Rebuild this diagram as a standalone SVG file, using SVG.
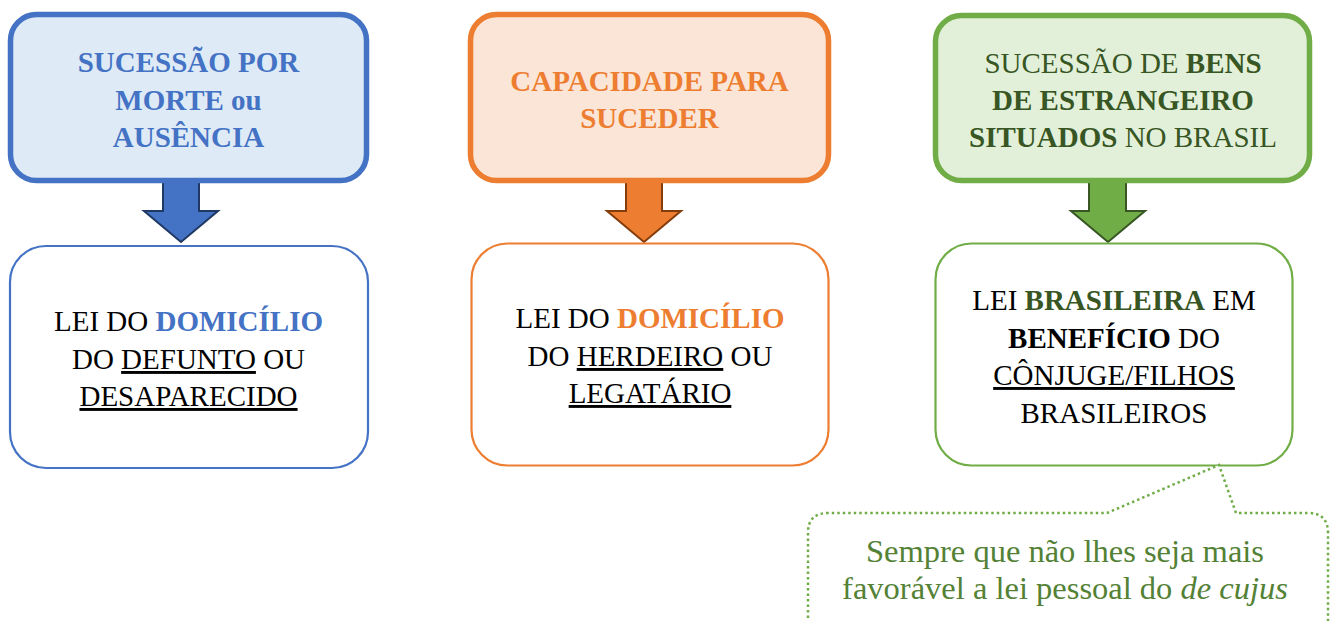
<svg xmlns="http://www.w3.org/2000/svg" width="1334" height="621" viewBox="0 0 1334 621">
<style>
text{font-family:"Liberation Serif","DejaVu Serif",serif;text-anchor:middle}
.h{font-size:29px}
.t{font-size:29px;fill:#000}
.c{font-size:32.5px;fill:#538135}
.b{font-weight:bold}
.u{text-decoration:underline}
.top{stroke-width:5.5}
.low{fill:#fff;stroke-width:2.2}
.arr{stroke-width:2;stroke-linejoin:miter}
</style>
<g id="conectores">
<polygon class="arr" fill="#4472C4" stroke="#1F3864" points="163,181 199,181 199,211 218,211 181,242 144,211 163,211"/>
<polygon class="arr" fill="#ED7D31" stroke="#843C0C" points="626,181 662,181 662,211 681,211 644,242 607,211 626,211"/>
<polygon class="arr" fill="#70AD47" stroke="#375623" points="1089,181 1126,181 1126,211 1145,211 1108,242 1071,211 1089,211"/>
</g>
<g id="no1">
<rect class="top" x="10.5" y="14.5" width="356" height="166" rx="26" fill="#DEEBF7" stroke="#4472C4"/>
<text class="h b" fill="#4472C4"><tspan x="188.5" y="72">SUCESSÃO POR</tspan><tspan x="188.5" y="110">MORTE ou</tspan><tspan x="188.5" y="147">AUSÊNCIA</tspan></text>
</g>
<g id="no2">
<rect class="top" x="470.5" y="14.5" width="358" height="166" rx="26" fill="#FBE5D6" stroke="#ED7D31"/>
<text class="h b" fill="#ED7D31"><tspan x="649.5" y="91">CAPACIDADE PARA</tspan><tspan x="649.5" y="128">SUCEDER</tspan></text>
</g>
<g id="no3">
<rect class="top" x="935.5" y="15.5" width="374" height="165" rx="26" fill="#E2F0D9" stroke="#70AD47"/>
<text class="h" fill="#375623"><tspan x="1123" y="73">SUCESSÃO DE <tspan class="b">BENS</tspan></tspan><tspan x="1123" y="110" class="b">DE ESTRANGEIRO</tspan><tspan x="1123" y="147"><tspan class="b">SITUADOS</tspan> NO BRASIL</tspan></text>
</g>
<g id="no4">
<rect class="low" x="10" y="246" width="358" height="222" rx="36" stroke="#4472C4"/>
<text class="t"><tspan x="188.5" y="331">LEI DO <tspan class="b" fill="#4472C4">DOMICÍLIO</tspan></tspan><tspan x="188.5" y="369">DO <tspan class="u">DEFUNTO</tspan> OU</tspan><tspan x="188.5" y="406" class="u">DESAPARECIDO</tspan></text>
</g>
<g id="no5">
<rect class="low" x="471.5" y="243.5" width="357" height="222" rx="36" stroke="#ED7D31"/>
<text class="t"><tspan x="650" y="328">LEI DO <tspan class="b" fill="#ED7D31">DOMICÍLIO</tspan></tspan><tspan x="650" y="366">DO <tspan class="u">HERDEIRO</tspan> OU</tspan><tspan x="650" y="403" class="u">LEGATÁRIO</tspan></text>
</g>
<g id="no6">
<rect class="low" x="935.5" y="243.5" width="357" height="222" rx="36" stroke="#70AD47"/>
<text class="t"><tspan x="1114" y="310">LEI <tspan class="b" fill="#375623">BRASILEIRA</tspan> EM</tspan><tspan x="1114" y="348"><tspan class="b">BENEFÍCIO</tspan> DO</tspan><tspan x="1114" y="385" class="u">CÔNJUGE/FILHOS</tspan><tspan x="1114" y="423">BRASILEIROS</tspan></text>
</g>
<g id="nota">
<path d="M808,640 L808,533 Q808,513 828,513 L1107,513 L1219,465 L1236,513 L1308,513 Q1328,513 1328,533 L1328,640" fill="#fff" stroke="#70AD47" stroke-width="2.5" stroke-dasharray="2.5 3"/>
<text class="c"><tspan x="1065" y="562">Sempre que não lhes seja mais</tspan><tspan x="1065" y="599">favorável a lei pessoal do <tspan font-style="italic">de cujus</tspan></tspan></text>
</g>
</svg>
